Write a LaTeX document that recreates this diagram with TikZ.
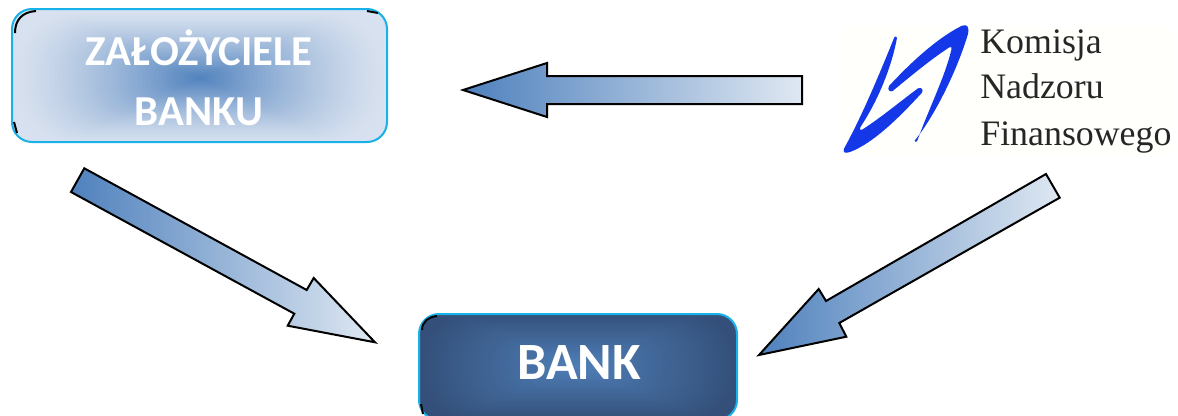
\documentclass[tikz,border=0pt]{standalone}
\usepackage{fontspec}
\setmainfont{Carlito}
\newfontfamily\logofont{Liberation Serif}
\definecolor{arrowblue}{HTML}{4F81BD}
\definecolor{arrowmid}{HTML}{A5BCDB}
\definecolor{arrowpale}{HTML}{DFE8F2}
\definecolor{boxedge}{HTML}{19B2E8}
\definecolor{paleouter}{HTML}{D7E1EF}
\definecolor{paleinner}{HTML}{4F81BD}
\definecolor{darkouter}{HTML}{34507A}
\definecolor{darkinner}{HTML}{4F7FB8}
\definecolor{logoblue}{HTML}{1438E8}
\definecolor{logoink}{HTML}{262626}
\tikzset{
  blockarrow/.style={draw=black,line width=2*0.02cm,line join=miter,left color=arrowblue,middle color=arrowmid,right color=arrowpale},
  roundbox/.style={draw=boxedge,line width=2*0.02cm,rounded corners=20*0.02cm,inner sep=0pt,outer sep=0pt,anchor=north west},
  boxtext/.style={text=white,align=center,inner sep=0pt},
  logotext/.style={text=logoink,font=\logofont\fontsize{20.4}{22}\selectfont,anchor=base west,inner sep=0pt},
  corner/.style={draw=black,line width=2*0.02cm},
}
\newcommand{\glowfill}[7]{% cx cy hw hh outer inner exponent
  \foreach \i in {0,...,44}{
    \pgfmathsetmacro\tt{1-\i/45}
    \pgfmathsetmacro\pp{100*pow(1-\tt,#7)}
    \pgfmathsetmacro\rr{0.85*min(#3*\tt,#4*\tt)}
    \fill[#6!\pp!#5,rounded corners=\rr*0.02cm] (#1-#3*\tt,#2-#4*\tt) rectangle (#1+#3*\tt,#2+#4*\tt);
  }
}
\begin{document}
\begin{tikzpicture}[x=0.02cm,y=-0.02cm]
\useasboundingbox (0,0) rectangle (1178,416);
\fill[white] (0,0) rectangle (1178,416);
% founders box
\node[roundbox,minimum width=375*0.02cm,minimum height=133*0.02cm,
  path picture={\fill[paleouter] (-200,-100) rectangle (200,100);\glowfill{0}{2.5}{187}{66}{paleouter}{paleinner}{1.3}}]
  (founders) at (12,9) {};
\node[boxtext,font=\bfseries\fontsize{24.3}{34}\selectfont,anchor=base] (foundersA) at (199,65) {ZAŁOŻYCIELE};
\node[boxtext,font=\bfseries\fontsize{24.3}{34}\selectfont,anchor=base] (foundersB) at (199,125) {BANKU};
\draw[corner] (15,33) .. controls (15,20) and (22,12) .. (36,11);
\draw[corner] (367,11) -- (378,13);
\draw[corner] (14,122) -- (17,133);
% bank box
\node[roundbox,minimum width=318*0.02cm,minimum height=106*0.02cm,
  path picture={\fill[darkouter] (-200,-100) rectangle (200,100);\glowfill{0}{-1}{159}{53}{darkouter}{darkinner}{1.0}}]
  (bank) at (419,314) {};
\node[boxtext,font=\bfseries\fontsize{29.8}{34}\selectfont,anchor=base] (bankT) at (579,379) {BANK};
\draw[corner] (422,330) .. controls (422,322) and (428,317) .. (437,316);
\draw[corner] (421,404) -- (423,414);
% block arrows
\path[blockarrow] (463,90) -- (547,63) -- (547,76) -- (802,76) -- (802,104) -- (547,104) -- (547,117) -- cycle;
\path[blockarrow] (84.3,168.3) -- (306.7,290) -- (313.7,278) -- (375,342.3) -- (287.7,325.7) -- (294.3,313.7) -- (71,192) -- cycle;
\path[blockarrow] (1046,174) -- (1059.7,197.7) -- (839.3,323) -- (846.3,336.7) -- (759,355) -- (818.7,289) -- (826,301) -- cycle;
% logo
\fill[white!99!yellow] (843,26) rectangle (1172,155);
\begin{scope}[shift={(830,10)},x=0.02cm/3,y=-0.02cm/3]
\fill[logoblue] (193,82) .. controls (145,200) and (95,320) .. (42,416)
  .. controls (38,428) and (45,431) .. (60,426)
  .. controls (130,400) and (210,320) .. (276,248)
  .. controls (281,238) and (274,231) .. (264,235)
  .. controls (210,275) and (150,325) .. (98,358)
  .. controls (91,362) and (88,358) .. (92,350)
  .. controls (145,270) and (185,170) .. (201,84)
  .. controls (201,78) and (195,78) .. (193,82) -- cycle;
\fill[logoblue] (254,392) .. controls (320,310) and (385,170) .. (414,72)
  .. controls (418,50) and (412,42) .. (396,47)
  .. controls (320,85) and (240,160) .. (177,228)
  .. controls (171,240) and (180,247) .. (188,243)
  .. controls (240,200) and (300,150) .. (358,112)
  .. controls (365,108) and (366,112) .. (364,120)
  .. controls (345,200) and (295,300) .. (262,392)
  .. controls (259,398) and (255,397) .. (254,392) -- cycle;
\end{scope}
\node[logotext] (logoA) at (980,53) {Komisja};
\node[logotext] (logoB) at (980,98) {Nadzoru};
\node[logotext] (logoC) at (980,145) {Finansowego};
\end{tikzpicture}
\end{document}
